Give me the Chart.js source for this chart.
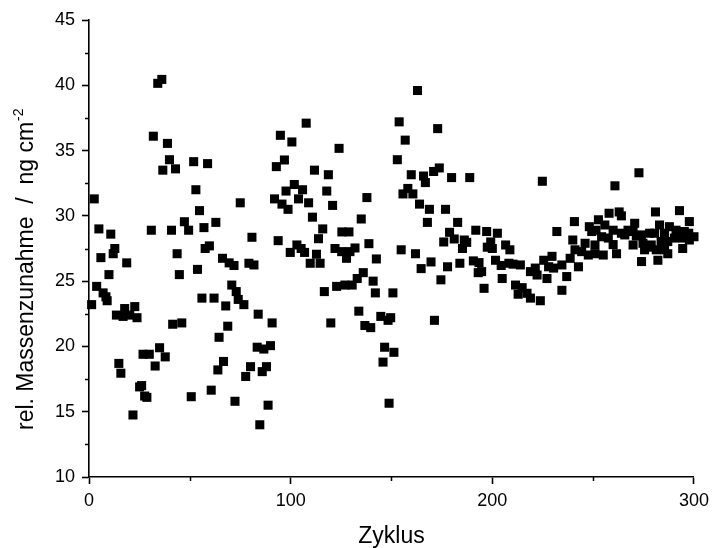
<!DOCTYPE html>
<html lang="de">
<head>
<meta charset="UTF-8">
<title>Massenzunahme</title>
<script src="https://cdn.jsdelivr.net/npm/chart.js@4"></script>
<style>
  body{margin:0;background:#fff}
</style>
</head>
<body>
<canvas id="chart" width="715" height="548"></canvas>
<script>
// werte
const zyklus = [
  1.3,2.6,3.8,4.9,5.9,7,8.4,9,9.9,10.8,12,12.8,13.6,14.8,15.8,16.9,17.7,18.7,20.2,21.8,
  22.7,23.8,25.1,26.1,26.8,27.6,28.7,29.9,30.9,31.9,32.8,34.1,35,36.1,36.6,37.8,38.9,39.9,40.9,41.5,
  42.9,43.7,44.8,46,47.3,49.4,50.7,51.9,53,53.8,54.8,56,57,57.6,58.8,59.7,60.6,62,62.9,63.9,
  64.5,66.2,66.7,67.8,68.8,69.5,70.8,71.9,72.4,73,74,75,76.8,
  77.7,79.3,80.1,80.8,81.8,83.4,83.9,84.7,85.9,86.7,88,88.8,90,90.8,92,92.9,93.8,94.9,95.7,96.9,
  97.7,98.7,99.8,100.6,101.8,103.1,103.9,105.2,105.9,106.9,107.7,108.9,109.7,110.8,111.8,112.8,113.8,114.6,115.9,116.7,
  117.9,118.7,119.9,120.8,122,122.8,124,125.3,125.4,126.9,127.7,128.9,129.4,130.5,131.9,133,133.8,135,136,136.8,
  137.8,138.8,139.7,140.9,142,142.5,144.7,145.8,146.6,148.3,148.8,149.6,150.7,151.2,152.9,153.8,154.8,
  155.7,156.8,158.1,159.8,160.6,161.9,162.9,163.9,164.7,165.9,166.8,167.8,168.8,169.6,170.9,171.3,172.9,173.7,174.5,175.9,
  176.8,177.8,178.8,179.8,181.1,182.8,183.9,185.2,186.1,187.3,188.8,190.6,191.8,193,193.4,194.7,195.9,197.2,197.5,199.2,
  200,201.6,202.5,204.4,204.9,206.6,208.2,208.7,210.3,211.5,212.8,213.9,214.8,217.2,218.9,218.9,221.3,222.2,223.8,224.8,
  225.5,227.1,227.9,229.6,230.4,232,234.5,234.5,236.9,238.6,239.9,240.7,241,242.7,244.3,246,247.6,248.1,249.3,250.9,
  250.9,251.4,252.6,254.2,255,255.8,257.5,257.9,259.9,259.9,260.8,261.6,262.9,264,264,265.7,267.3,269.8,269.8,270.6,
  271.4,272.7,273.9,274,274.7,275.5,278,278,278.8,280.5,280.9,281.3,282.1,282.9,283.7,285.4,285.4,287,287,287.8,
  290.3,291.1,292.8,294.4,294.4,295.2,297.4,297.7,297.7,300
]
const massenzunahme = [
  23.2,31.3,24.6,29.0,26.8,24.1,23.8,23.5,25.5,28.6,27.1,27.5,22.4,18.7,17.95,22.3,22.9,26.4,22.4,14.75,
  23.05,22.2,16.9,17.0,19.4,16.2,16.1,19.4,28.9,36.1,18.5,40.15,19.9,40.45,33.5,19.2,35.55,34.3,28.9,21.7,
  33.6,27.1,25.5,21.8,29.55,28.9,16.15,34.15,32.0,25.9,30.4,23.7,29.1,27.5,34.0,27.7,16.65,23.7,29.5,18.2,
  20.7,26.75,18.85,23.1,21.55,26.4,24.7,26.2,15.8,24.2,23.6,31.0,23.2,
  17.7,26.37,18.45,28.36,26.24,19.94,22.47,14.0,18.07,19.8,18.45,15.5,20.06,21.8,31.3,33.77,28.1,36.17,30.9,34.28,
  31.9,30.5,27.2,35.66,32.4,27.77,31.3,27.5,32.0,27.2,37.1,31.0,26.37,29.9,33.5,27.06,28.25,26.37,29.0,24.2,
  31.9,33.15,21.8,30.8,27.5,24.6,35.17,27.26,28.77,24.7,26.75,28.77,27.26,24.7,27.54,25.2,22.7,29.76,25.65,21.6,
  31.4,27.87,21.44,25.0,24.1,26.7,22.3,18.8,19.94,22.0,15.65,22.2,24.1,19.55,34.3,37.2,27.4,
  31.68,35.8,32.1,33.15,31.68,27.1,39.6,30.9,25.96,33.05,32.55,29.5,30.5,26.47,33.4,22.0,36.68,33.67,25.1,28.0,
  30.5,26.1,28.74,32.93,28.23,29.5,26.37,27.5,28.15,27.97,32.93,26.55,28.9,25.65,26.42,25.73,24.45,28.8,27.6,28.0,
  27.5,26.6,28.67,26.2,25.2,27.77,26.37,27.4,26.3,24.7,24.0,26.24,24.5,24.07,25.73,23.7,26.0,25.47,23.5,32.65,
  26.6,25.2,26.1,26.9,26.0,28.8,26.24,24.3,25.35,26.75,28.15,29.56,27.4,26.1,27.26,27.9,27.0,29.17,28.8,27.77,
  27.1,28.9,29.7,28.4,27.0,29.3,28.3,30.2,28.9,27.8,32.3,27.1,30.3,30.0,28.67,28.54,28.9,28.8,27.77,29.43,
  28.46,33.3,28.54,26.5,27.9,27.4,28.67,27.6,27.77,28.67,30.3,27.4,26.6,29.3,28.03,28.67,27.4,28.03,27.1,29.17,
  28.3,28.9,30.4,28.3,27.5,28.8,28.67,29.56,28.15,28.4
]
const xTicks = [0, 100, 200, 300]
const yTicks = [10, 15, 20, 25, 30, 35, 40, 45]
const xMinor = [50, 150, 250]
const yMinor = [12.5, 17.5, 22.5, 27.5, 32.5, 37.5, 42.5]
const yTitle = 'rel. Massenzunahme  /  ng cm'
const yTitleSup = '-2'

const font = 'Liberation Sans, Arial, sans-serif'

// kleine zwischenstriche, die Chart.js nicht selbst kann
const minorTicks = {
  id: 'minorTicks',
  afterDraw(chart) {
    const {ctx, chartArea} = chart
    const x = chart.scales.x, y = chart.scales.y
    ctx.save()
    ctx.strokeStyle = '#000'
    ctx.lineWidth = 1.5
    ctx.beginPath()
    xMinor.forEach(v => {
      const px = Math.round(x.getPixelForValue(v)) + 0.5
      ctx.moveTo(px, chartArea.bottom)
      ctx.lineTo(px, chartArea.bottom + 4)
    })
    yMinor.forEach(v => {
      const py = Math.round(y.getPixelForValue(v)) + 0.5
      ctx.moveTo(chartArea.left, py)
      ctx.lineTo(chartArea.left - 4, py)
    })
    ctx.stroke()
    ctx.restore()
  }
}

// y-titel mit hochgestelltem exponent
const yAxisTitle = {
  id: 'yAxisTitle',
  afterDraw(chart) {
    const ctx = chart.ctx
    ctx.save()
    ctx.translate(33, 430)
    ctx.rotate(-Math.PI / 2)
    ctx.fillStyle = '#000'
    ctx.textAlign = 'left'
    ctx.textBaseline = 'alphabetic'
    ctx.font = '23px ' + font
    ctx.fillText(yTitle, 0, 0)
    const w = ctx.measureText(yTitle).width
    ctx.font = '14px ' + font
    ctx.fillText(yTitleSup, w + 1, -10)
    ctx.restore()
  }
}

const points = zyklus.map((z, i) => ({x: z, y: massenzunahme[i]}))

new Chart(document.getElementById('chart'), {
  type: 'scatter',
  data: {
    datasets: [{
      data: points,
      pointStyle: 'rect',
      pointRadius: 6.4,
      pointHoverRadius: 6.4,
      pointBorderWidth: 0,
      backgroundColor: '#000',
      borderColor: '#000',
      clip: false
    }]
  },
  options: {
    responsive: false,
    animation: false,
    layout: {padding: {top: 20, right: 18, left: 0, bottom: 0}},
    plugins: {legend: {display: false}, tooltip: {enabled: false}},
    scales: {
      x: {
        type: 'linear',
        min: 0,
        max: 300,
        afterBuildTicks: s => { s.ticks = xTicks.map(v => ({value: v})) },
        afterFit: s => { s.height = 71 },
        border: {color: '#000', width: 1.6},
        grid: {drawOnChartArea: false, tickLength: 7, tickWidth: 1.6, tickColor: '#000'},
        ticks: {color: '#000', padding: 6, maxRotation: 0, font: {family: font, size: 18}},
        title: {
          display: true,
          text: 'Zyklus',
          color: '#000',
          padding: {top: 0, bottom: 0},
          font: {family: font, size: 23, lineHeight: 1}
        }
      },
      y: {
        type: 'linear',
        min: 10,
        max: 45,
        afterBuildTicks: s => { s.ticks = yTicks.map(v => ({value: v})) },
        afterFit: s => { s.width = 89 },
        border: {color: '#000', width: 1.6},
        grid: {drawOnChartArea: false, tickLength: 7, tickWidth: 1.6, tickColor: '#000'},
        ticks: {color: '#000', padding: 7, font: {family: font, size: 18}}
      }
    }
  },
  plugins: [minorTicks, yAxisTitle]
})
</script>
</body>
</html>
